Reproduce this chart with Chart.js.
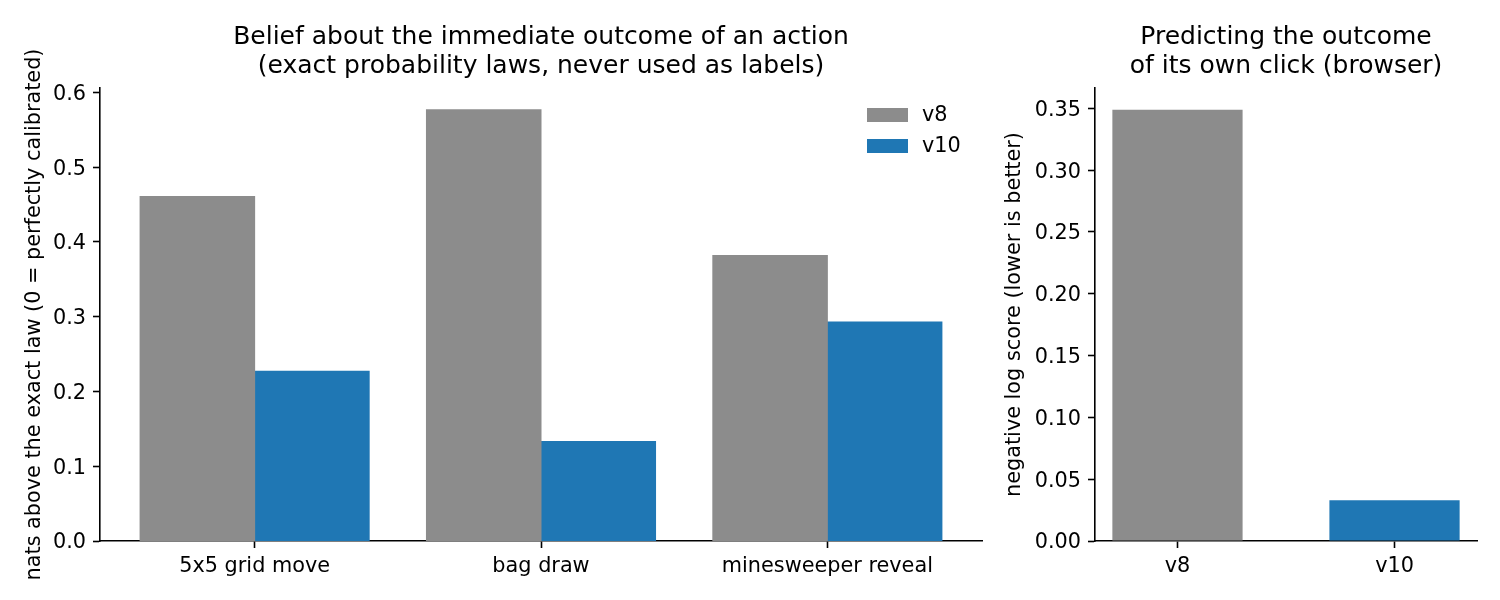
<!DOCTYPE html>
<html>
<head>
<meta charset="utf-8">
<script src="https://cdn.jsdelivr.net/npm/chart.js@4.4.1/dist/chart.umd.min.js"></script>
<style>
html, body { margin: 0; padding: 0; background: #fff; width: 1500px; height: 600px; overflow: hidden; position: relative; }
.panel { position: absolute; top: 0; height: 600px; }
#left { left: 0; width: 1082px; }
#right { left: 1000px; width: 572px; }
</style>
</head>
<body>
<div class="panel" id="left"><canvas id="taskChart"></canvas></div>
<div class="panel" id="right"><canvas id="clickChart"></canvas></div>
<script>
// values
const taskLabels = ['5x5 grid move', 'bag draw', 'minesweeper reveal']
const taskV8 = [0.461, 0.577, 0.382]
const taskV10 = [0.227, 0.133, 0.293]

const clickLabels = ['v8', 'v10']
const clickValues = [0.349, 0.033]

const GRAY = '#8c8c8c'
const BLUE = '#1f77b4'

Chart.defaults.font.family = '"DejaVu Sans", sans-serif'
Chart.defaults.color = '#000'

const tickFont = { size: 20.8 }

// legend drawn inside the plot, top right, like matplotlib
const insideLegend = {
    id: 'insideLegend',
    afterDraw(chart) {
        const ctx = chart.ctx
        const area = chart.chartArea
        ctx.save()
        ctx.font = '20.8px "DejaVu Sans"'
        ctx.textBaseline = 'middle'
        chart.data.datasets.forEach((ds, i) => {
            const y = area.top + 20 + i * 31
            ctx.fillStyle = ds.backgroundColor
            ctx.fillRect(area.right - 115, y, 41, 14)
            ctx.fillStyle = '#000'
            ctx.fillText(ds.label, area.right - 60, y + 8)
        })
        ctx.restore()
    }
}

function axisGrid() {
    return { display: true, drawOnChartArea: false, drawTicks: true, tickLength: 7, tickWidth: 1.6, color: '#000', tickColor: '#000', offset: false }
}

function axisBorder() {
    return { display: true, color: '#000', width: 1.6 }
}

// invisible right-hand axis so the title centres over the plot area
function spacer(w) {
    return {
        position: 'right', display: true,
        grid: { display: false }, border: { display: false }, ticks: { display: false },
        afterFit: s => { s.width = w }
    }
}

function titleOpts(lines) {
    return {
        display: true, text: lines, color: '#000',
        font: { size: 25, weight: 'normal', lineHeight: 1.16 },
        padding: { top: 23, bottom: 7 }
    }
}

const taskData = {
    datasets: [
        { label: 'v8', data: taskV8.map((v, i) => ({ x: i, y: v })), backgroundColor: GRAY },
        { label: 'v10', data: taskV10.map((v, i) => ({ x: i, y: v })), backgroundColor: BLUE }
    ]
}

new Chart(document.getElementById('taskChart'), {
    type: 'bar',
    data: taskData,
    plugins: [insideLegend],
    options: {
        responsive: true,
        maintainAspectRatio: false,
        animation: false,
        categoryPercentage: 0.8,
        barPercentage: 1,
        inflateAmount: 0.5,
        layout: { padding: 0 },
        plugins: {
            legend: { display: false },
            tooltip: { enabled: false },
            title: titleOpts(['Belief about the immediate outcome of an action', '(exact probability laws, never used as labels)'])
        },
        scales: {
            x: {
                type: 'linear', min: -0.54, max: 2.54, offset: false,
                grid: axisGrid(), border: axisBorder(),
                ticks: { stepSize: 1, includeBounds: false, autoSkip: false, maxRotation: 0, padding: 6, font: tickFont,
                    callback: v => taskLabels[v] ?? '' },
                afterFit: s => { s.height = 59 }
            },
            y: {
                min: 0, max: 0.606,
                grid: axisGrid(), border: axisBorder(),
                ticks: { stepSize: 0.1, includeBounds: false, padding: 7, labelOffset: 2, font: tickFont, callback: v => v.toFixed(1) },
                title: { display: true, text: 'nats above the exact law (0 = perfectly calibrated)', font: tickFont, padding: { top: 22.5, bottom: 0 } },
                afterFit: s => { s.width = 100 }
            },
            pad: spacer(100)
        }
    }
})

new Chart(document.getElementById('clickChart'), {
    type: 'bar',
    data: {
        datasets: [{
            label: 'click',
            data: clickValues.map((v, i) => ({ x: i, y: v })),
            backgroundColor: [GRAY, BLUE]
        }]
    },
    options: {
        responsive: true,
        maintainAspectRatio: false,
        animation: false,
        categoryPercentage: 0.6,
        barPercentage: 1,
        layout: { padding: 0 },
        plugins: {
            legend: { display: false },
            tooltip: { enabled: false },
            title: titleOpts(['Predicting the outcome', 'of its own click (browser)'])
        },
        scales: {
            x: {
                type: 'linear', min: -0.38, max: 1.38, offset: false,
                grid: axisGrid(), border: axisBorder(),
                ticks: { stepSize: 1, includeBounds: false, autoSkip: false, maxRotation: 0, padding: 6, font: tickFont,
                    callback: v => clickLabels[v] ?? '' },
                afterFit: s => { s.height = 59 }
            },
            y: {
                min: 0, max: 0.3665,
                grid: axisGrid(), border: axisBorder(),
                ticks: { stepSize: 0.05, includeBounds: false, padding: 7, labelOffset: 2, font: tickFont, callback: v => v.toFixed(2) },
                title: { display: true, text: 'negative log score (lower is better)', font: tickFont, padding: { top: 2, bottom: 0 } },
                afterFit: s => { s.width = 95 }
            },
            pad: spacer(95)
        }
    }
})
</script>
</body>
</html>
